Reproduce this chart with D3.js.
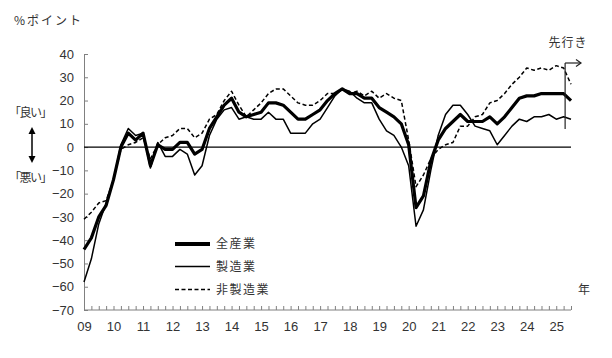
<!DOCTYPE html>
<html><head><meta charset="utf-8">
<script src="https://cdn.jsdelivr.net/npm/d3@7"></script>
<style>
html,body{margin:0;padding:0;background:#fff;}
svg{display:block;}
.num{font-family:"Liberation Sans Narrow","Liberation Sans",Arial,sans-serif;font-size:13px;fill:#333;}
.jp{font-family:"Noto Sans CJK JP",sans-serif;font-size:12px;fill:#333;}
</style></head>
<body>
<script>
// ---- data (quarterly, 2009Q1 .. 2025Q2, last element = forecast) ----
const yearLabels = ["09","10","11","12","13","14","15","16","17","18","19","20","21","22","23","24","25"];
const yTicks = [40,30,20,10,0,-10,-20,-30,-40,-50,-60,-70];
const seriesNames = ["全産業","製造業","非製造業"];
const allIndustries = [-44,-39,-30,-25,-14,0,6,3,6,-8,1,-1,-1,2,2,-3,-1,8,13,18,21,15,13,14,15,19,19,18,15,12,12,14,16,20,23,25,23,23,21,21,17,15,13,10,1,-26,-21,-6,3,8,11,14,11,11,11,13,10,13,17,21,22,22,23,23,23,23,20];
const manufacturing = [-58,-48,-33,-24,-14,1,8,5,6,-9,2,-4,-4,-1,-3,-12,-8,5,12,16,17,12,13,12,12,15,12,12,6,6,6,10,12,17,22,25,24,21,19,19,12,7,5,0,-8,-34,-27,-10,5,14,18,18,14,9,8,7,1,5,9,12,11,13,13,14,12,13,12];
const nonManufacturing = [-31,-28,-24,-23,-14,-1,1,2,4,-5,1,4,5,8,8,4,6,12,14,20,24,18,13,16,19,23,25,25,22,19,18,18,20,23,23,25,23,24,22,24,21,23,21,20,3,-17,-12,-5,-1,1,2,9,9,13,14,19,20,23,27,30,34,33,34,33,35,34,27];

const W = 612, H = 358;
const svg = d3.select("body").append("svg").attr("width", W).attr("height", H);

const nPts = allIndustries.length; // 67
const x = d3.scaleLinear().domain([0, nPts - 1]).range([84, 571]);
const y = d3.scaleLinear().domain([-70, 40]).range([310, 54]);

const axisColor = "#808080";

// y axis
const yAxis = d3.axisLeft(y).tickValues(yTicks).tickSize(-4).tickPadding(10).tickFormat(d3.format("d"));
const gy = svg.append("g").attr("transform", "translate(84,0)").call(yAxis);
gy.select(".domain").attr("stroke", axisColor);
gy.selectAll(".tick line").attr("stroke", axisColor);
gy.selectAll(".tick text").attr("class", "num").attr("font-family", null).attr("font-size", null).attr("fill", "#333");

// x axis (quarter ticks, year labels)
const quarterIdx = d3.range(nPts);
const xAxis = d3.axisBottom(x).tickValues(quarterIdx).tickSize(-4).tickPadding(12)
  .tickFormat(i => (i % 4 === 0 && yearLabels[i / 4] !== undefined) ? yearLabels[i / 4] : "");
const gx = svg.append("g").attr("transform", "translate(0,310)").call(xAxis);
gx.select(".domain").attr("stroke", axisColor).attr("d", "M84,0H571");
gx.selectAll(".tick line").attr("stroke", axisColor);
gx.selectAll(".tick text").attr("class", "num").attr("font-family", null).attr("font-size", null).attr("fill", "#333");

// zero line
svg.append("line").attr("x1", x(0)).attr("x2", x(nPts - 1)).attr("y1", y(0)).attr("y2", y(0))
  .attr("stroke", "#000").attr("stroke-width", 1.2);

// series
const line = d3.line().x((d, i) => x(i)).y(d => y(d));
const styles = [
  {data: allIndustries, w: 3.2, dash: null},
  {data: manufacturing, w: 1.5, dash: null},
  {data: nonManufacturing, w: 1.5, dash: "4,2.5"}
];
styles.slice().reverse().forEach(s => {
  svg.append("path").datum(s.data).attr("d", line).attr("fill", "none")
    .attr("stroke", "#000").attr("stroke-width", s.w)
    .attr("stroke-dasharray", s.dash).attr("stroke-linejoin", "round");
});

// legend
const legY = [244, 266.5, 289.5];
styles.forEach((s, i) => {
  svg.append("line").attr("x1", 175).attr("x2", 210).attr("y1", legY[i]).attr("y2", legY[i])
    .attr("stroke", "#000").attr("stroke-width", i === 0 ? 4 : 1.6).attr("stroke-dasharray", s.dash);
  svg.append("text").attr("class", "jp").attr("x", 216).attr("y", legY[i]).attr("dy", "0.35em")
    .attr("letter-spacing", "1.5").text(seriesNames[i]);
});

// forecast marker
const fx = x(nPts - 2) + 1.5;
svg.append("line").attr("x1", fx).attr("x2", fx).attr("y1", 63).attr("y2", 129).attr("stroke", "#222").attr("stroke-width", 1.2);
svg.append("line").attr("x1", fx).attr("x2", 581).attr("y1", 63).attr("y2", 63).attr("stroke", "#222").attr("stroke-width", 1.2);
svg.append("path").attr("d", "M576,59.5L581,63L576,66.5").attr("fill", "none").attr("stroke", "#222").attr("stroke-width", 1.2);
svg.append("text").attr("class", "jp").attr("x", 568).attr("y", 43).attr("dy", "0.35em")
  .attr("text-anchor", "middle").attr("letter-spacing", "1").text("先行き");

// texts
svg.append("text").attr("class", "jp").attr("x", 14).attr("y", 21).attr("dy", "0.35em")
  .attr("letter-spacing", "2").text("%ポイント");
svg.append("text").attr("class", "jp").attr("x", 584).attr("y", 290).attr("dy", "0.35em")
  .attr("text-anchor", "middle").text("年");
svg.append("text").attr("class", "jp").attr("x", 9).attr("y", 113).attr("dy", "0.35em")
  .attr("font-size", "11.5px").attr("letter-spacing", "-1.5").text("「良い」");
svg.append("text").attr("class", "jp").attr("x", 9).attr("y", 178).attr("dy", "0.35em")
  .attr("font-size", "11.5px").attr("letter-spacing", "-1.5").text("「悪い」");

// double arrow
svg.append("line").attr("x1", 32).attr("x2", 32).attr("y1", 131).attr("y2", 159).attr("stroke", "#000").attr("stroke-width", 1.5);
svg.append("path").attr("d", "M32,127L28.5,134L35.5,134Z").attr("fill", "#000");
svg.append("path").attr("d", "M32,163L28.5,156L35.5,156Z").attr("fill", "#000");
</script>
</body></html>
